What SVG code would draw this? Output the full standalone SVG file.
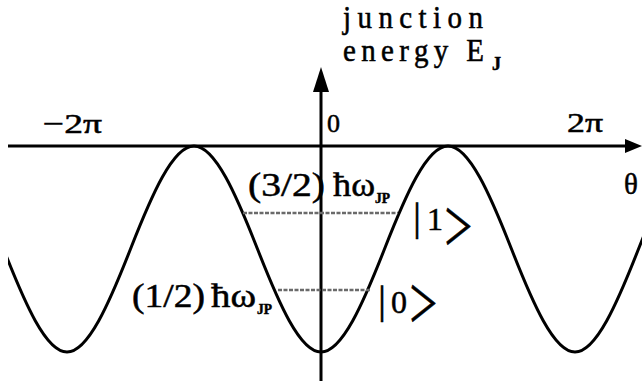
<svg xmlns="http://www.w3.org/2000/svg" width="642" height="385" viewBox="0 0 642 385">
<style>
.ax{stroke:#000;stroke-width:3;fill:none}
.cv{stroke:#000;stroke-width:3;fill:none;stroke-linejoin:round}
.lv{stroke:#6a6a6a;stroke-width:2.5;stroke-dasharray:4 1.5;fill:none}
.t{font-family:"Liberation Serif","DejaVu Serif",serif;fill:#000;stroke:#000;stroke-width:0.5}
.k{font-family:"Noto Sans CJK JP","Noto Sans",sans-serif;fill:#000;stroke:#000;stroke-width:0.4}
.ah{fill:#000}
</style>
<defs>
<clipPath id="clip"><rect x="8" y="0" width="634" height="385"/></clipPath>
</defs>
<rect width="642" height="385" fill="#fff"/>
<g id="axes">
<line class="ax" x1="8" y1="146" x2="628" y2="146"/>
<polygon class="ah" points="625,139 642,146 625,153"/>
<line class="ax" x1="321" y1="381" x2="321" y2="88"/>
<polygon class="ah" points="321,67 313,92 329,92"/>
</g>
<g id="curve" clip-path="url(#clip)">
<path class="cv" d="M3.5,249 C24.67,302.93 45.83,352 67,352 S109.33,302.93 130.5,249 S172.83,146 194,146 S236.33,195.07 257.5,249 S299.83,352 321,352 S363.33,302.93 384.5,249 S426.83,146 448,146 S490.33,195.07 511.5,249 S553.83,352 575,352 S617.33,302.93 638.5,249 S680.83,146 702,146"/>
</g>
<g id="levels">
<line class="lv" x1="243" y1="213" x2="398" y2="213"/>
<line class="lv" x1="278" y1="290" x2="370" y2="290"/>
</g>
<g id="labels">
<text class="t" font-size="29" textLength="140" lengthAdjust="spacing" transform="translate(343,28) scale(1,1.12)">junction</text>
<text class="t" font-size="29" textLength="141" lengthAdjust="spacing" transform="translate(343,61) scale(1,1.12)">energy E</text>
<text class="t" x="492" y="70" font-size="18" font-weight="bold">J</text>
<text class="t" x="43" y="133" font-size="28" textLength="59" lengthAdjust="spacingAndGlyphs">−2π</text>
<text class="t" x="327" y="132" font-size="26">0</text>
<text class="t" x="567" y="132" font-size="27" textLength="36" lengthAdjust="spacingAndGlyphs">2π</text>
<text class="t" x="624" y="194" font-size="29">θ</text>
<text class="t" x="248" y="196" font-size="33" textLength="77" lengthAdjust="spacingAndGlyphs">(3/2)</text>
<text class="t" x="333" y="196" font-size="34" textLength="42" lengthAdjust="spacingAndGlyphs">ħω</text>
<text class="t" x="375" y="203" font-size="14" font-weight="bold" textLength="15" lengthAdjust="spacingAndGlyphs">JP</text>
<text class="t" x="132" y="307" font-size="33" textLength="73" lengthAdjust="spacingAndGlyphs">(1/2)</text>
<text class="t" x="211" y="307" font-size="34" textLength="45" lengthAdjust="spacingAndGlyphs">ħω</text>
<text class="t" x="257" y="314" font-size="14" font-weight="bold" textLength="15" lengthAdjust="spacingAndGlyphs">JP</text>
<text class="t" x="413" y="230" font-size="40">|</text>
<text class="t" x="427" y="230" font-size="32">1</text>
<text class="k" font-size="34" transform="translate(443,244) scale(0.9,1.4)">＞</text>
<text class="t" x="378" y="313" font-size="40">|</text>
<text class="t" x="391" y="313" font-size="32">0</text>
<text class="k" font-size="34" transform="translate(408,321) scale(0.9,1.4)">＞</text>
</g>
</svg>
